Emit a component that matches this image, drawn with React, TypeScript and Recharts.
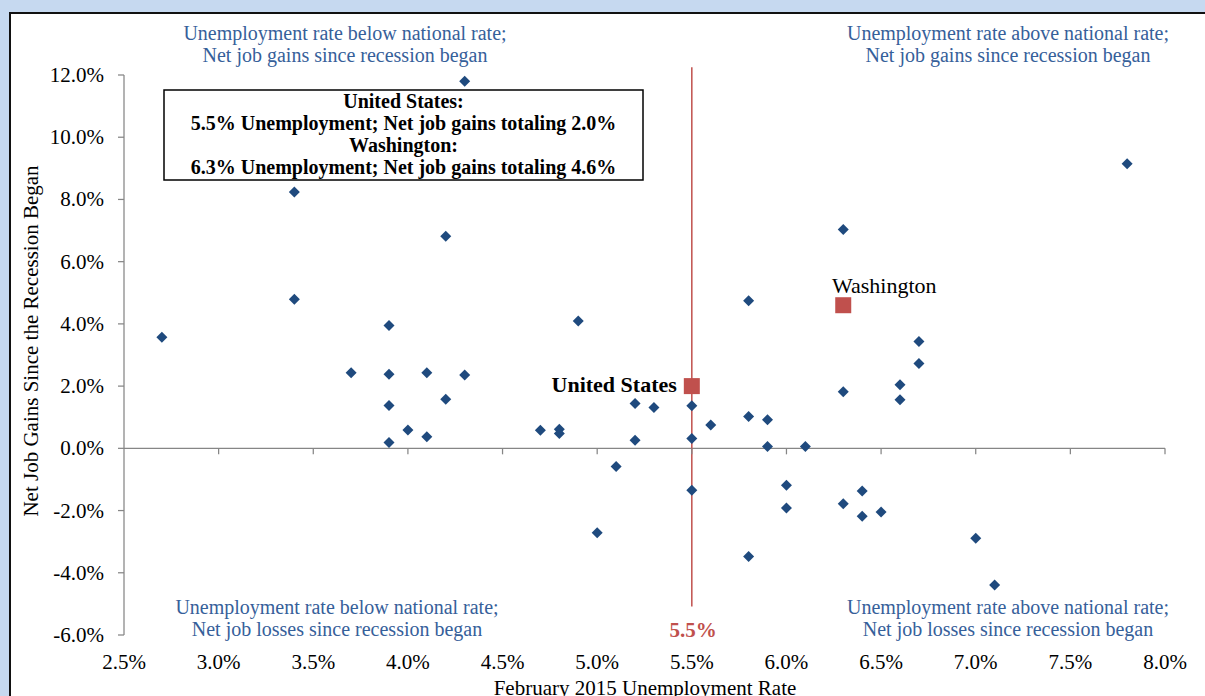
import React from 'react';
import { ScatterChart, Scatter, XAxis, YAxis, ReferenceLine, ReferenceDot } from 'recharts';

// February 2015 unemployment rate (%) by state
const unemploymentRates = [2.7, 3.4, 3.4, 3.7, 3.9, 3.9, 3.9, 3.9, 4.0, 4.1, 4.1, 4.2, 4.2, 4.3, 4.3, 4.7, 4.8, 4.8, 4.9, 5.0, 5.1, 5.2, 5.2, 5.3, 5.5, 5.5, 5.5, 5.6, 5.8, 5.8, 5.8, 5.9, 5.9, 6.0, 6.0, 6.1, 6.3, 6.3, 6.3, 6.4, 6.4, 6.5, 6.6, 6.6, 6.7, 6.7, 7.0, 7.1, 7.8];
// Net job gains since the recession began (%) by state
const netJobGains = [3.57, 8.24, 4.79, 2.43, 3.95, 2.38, 1.38, 0.19, 0.59, 2.43, 0.37, 6.82, 1.58, 11.8, 2.36, 0.58, 0.61, 0.48, 4.09, -2.71, -0.58, 1.44, 0.26, 1.31, 1.37, 0.32, -1.35, 0.75, 4.74, 1.02, -3.48, 0.92, 0.06, -1.19, -1.92, 0.06, 7.03, 1.82, -1.78, -1.37, -2.18, -2.05, 2.04, 1.56, 3.43, 2.73, -2.89, -4.39, 9.15];

const usName = 'United States';
const usRate = 5.5;
const usGain = 2.0;
const waName = 'Washington';
const waRate = 6.3;
const waGain = 4.6;

const xTicks = [2.5, 3.0, 3.5, 4.0, 4.5, 5.0, 5.5, 6.0, 6.5, 7.0, 7.5, 8.0];
const yTicks = [-6, -4, -2, 0, 2, 4, 6, 8, 10, 12];
const zeroLineTicks = [3.0, 3.5, 4.0, 4.5, 5.0, 5.5, 6.0, 6.5, 7.0, 7.5, 8.0];
const nationalLineSpan = [-5.08, 12.25];

const quadrantTopLeft = ['Unemployment rate below national rate;', 'Net job gains since recession began'];
const quadrantTopRight = ['Unemployment rate above national rate;', 'Net job gains since recession began'];
const quadrantBottomLeft = ['Unemployment rate below national rate;', 'Net job losses since recession began'];
const quadrantBottomRight = ['Unemployment rate above national rate;', 'Net job losses since recession began'];
const boxLines = [
  'United States:',
  '5.5% Unemployment; Net job gains totaling 2.0%',
  'Washington:',
  '6.3% Unemployment; Net job gains totaling 4.6%',
];
const yTitle = 'Net Job Gains Since the Recession Began';
const xTitle = 'February 2015 Unemployment Rate';

const FONT = '"Liberation Serif", "Times New Roman", serif';
const BLUE = '#1f4a7e';
const RED = '#c0504d';
const QUAD = '#36609a';
const GRAY = '#868686';

const stateData = unemploymentRates.map((x, i) => ({ x, y: netJobGains[i] }));
const usData = [{ x: usRate, y: usGain, name: usName }];
const waData = [{ x: waRate, y: waGain, name: waName }];

const Diamond = (props: any) => {
  const { cx, cy } = props;
  const r = 5.5;
  return <polygon points={`${cx},${cy - r} ${cx + r},${cy} ${cx},${cy + r} ${cx - r},${cy}`} fill={BLUE} />;
};

const UsShape = (props: any) => {
  const { cx, cy, payload } = props;
  return (
    <g>
      <rect x={cx - 8} y={cy - 8} width={16} height={16} fill={RED} />
      <text x={cx - 15} y={cy + 6} textAnchor="end" fontFamily={FONT} fontSize={22} fontWeight="bold" fill="#000">
        {payload.name}
      </text>
    </g>
  );
};

const WaShape = (props: any) => {
  const { cx, cy, payload } = props;
  return (
    <g>
      <rect x={cx - 8} y={cy - 8} width={16} height={16} fill={RED} />
      <text x={cx + 41} y={cy - 12} textAnchor="middle" fontFamily={FONT} fontSize={22} fill="#000">
        {payload.name}
      </text>
    </g>
  );
};

const ZeroTick = (props: any) => {
  const { cx, cy } = props;
  return <line x1={cx} y1={cy} x2={cx} y2={cy + 6} stroke={GRAY} strokeWidth={1.25} />;
};

const fmt = (v: number) => `${v.toFixed(1)}%`;

const XTick = (props: any) => (
  <text x={props.x} y={props.y} textAnchor="middle" fontFamily={FONT} fontSize={21} fill="#000">
    {fmt(props.payload.value)}
  </text>
);

const YTick = (props: any) => (
  <text x={props.x} y={props.y + 7} textAnchor="end" fontFamily={FONT} fontSize={21} fill="#000">
    {fmt(props.payload.value)}
  </text>
);

const QuadLabel = ({ lines, x, y }: { lines: string[]; x: number; y: number }) => (
  <text textAnchor="middle" fontFamily={FONT} fontSize={20} fill={QUAD}>
    {lines.map((l, i) => (
      <tspan key={i} x={x} y={y + i * 21.5}>
        {l}
      </tspan>
    ))}
  </text>
);

export default function App() {
  return (
    <div style={{ position: 'absolute', left: 0, top: 0, width: 1205, height: 696, background: '#c6d9f0', overflow: 'hidden' }}>
      <div
        style={{
          position: 'absolute',
          left: 9,
          top: 12,
          width: 1205,
          height: 700,
          background: '#fff',
          borderLeft: '2px solid #111',
          borderTop: '2px solid #111',
        }}
      />
      <div style={{ position: 'absolute', left: 0, top: 0 }}>
        <ScatterChart width={1205} height={696} margin={{ top: 75, right: 40, bottom: 0, left: 0 }}>
          <XAxis
            type="number"
            dataKey="x"
            domain={[2.5, 8.0]}
            ticks={xTicks}
            interval={0}
            height={61}
            axisLine={false}
            tickLine={false}
            tickSize={0}
            tickMargin={34}
            tick={<XTick />}
          />
          <YAxis
            type="number"
            dataKey="y"
            domain={[-6, 12]}
            ticks={yTicks}
            interval={0}
            width={124}
            axisLine={{ stroke: GRAY, strokeWidth: 1.25 }}
            tickLine={{ stroke: GRAY, strokeWidth: 1.25 }}
            tickSize={6}
            tickMargin={14}
            tick={<YTick />}
          />
          <ReferenceLine y={0} stroke={GRAY} strokeWidth={1.25} />
          {zeroLineTicks.map((t) => (
            <ReferenceDot key={t} x={t} y={0} r={0} shape={<ZeroTick />} />
          ))}
          <Scatter data={stateData} fill={BLUE} shape={<Diamond />} isAnimationActive={false} />
          <ReferenceLine
            segment={[
              { x: usRate, y: nationalLineSpan[0] },
              { x: usRate, y: nationalLineSpan[1] },
            ]}
            ifOverflow="visible"
            stroke={RED}
            strokeWidth={1.5}
          />
          <Scatter data={usData} fill={RED} shape={<UsShape />} isAnimationActive={false} />
          <Scatter data={waData} fill={RED} shape={<WaShape />} isAnimationActive={false} />
        </ScatterChart>
      </div>
      <svg width={1205} height={696} style={{ position: 'absolute', left: 0, top: 0, pointerEvents: 'none' }}>
        <QuadLabel lines={quadrantTopLeft} x={345} y={40} />
        <QuadLabel lines={quadrantTopRight} x={1008} y={40} />
        <QuadLabel lines={quadrantBottomLeft} x={337} y={614} />
        <QuadLabel lines={quadrantBottomRight} x={1008} y={614} />
        <rect x={164} y={90} width={479} height={90} fill="#fff" stroke="#000" strokeWidth={1.5} />
        <text textAnchor="middle" fontFamily={FONT} fontSize={20} fontWeight="bold" fill="#000">
          {boxLines.map((l, i) => (
            <tspan key={i} x={403.5} y={108 + i * 22}>
              {l}
            </tspan>
          ))}
        </text>
        <text x={693} y={637} textAnchor="middle" fontFamily={FONT} fontSize={21} fontWeight="bold" fill={RED}>
          {fmt(usRate)}
        </text>
        <text x={645} y={695} textAnchor="middle" fontFamily={FONT} fontSize={21} fill="#000">
          {xTitle}
        </text>
        <text
          transform="translate(38, 341) rotate(-90)"
          textAnchor="middle"
          fontFamily={FONT}
          fontSize={21}
          fill="#000"
        >
          {yTitle}
        </text>
      </svg>
    </div>
  );
}
